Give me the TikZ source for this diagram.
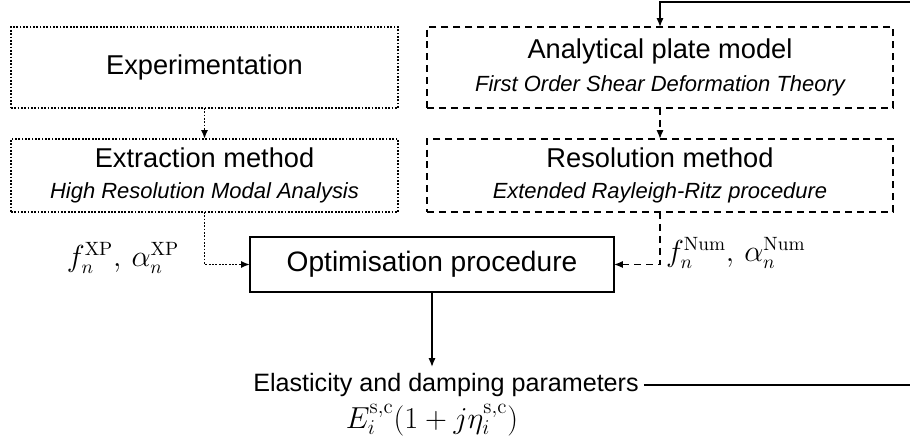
\documentclass[tikz,border=0pt]{standalone}
\usepackage[no-math]{fontspec}
\setmainfont{Liberation Sans}
\usetikzlibrary{arrows.meta}
\newcommand{\ttlfont}{\fontsize{15.5}{18}\selectfont}
\newcommand{\subfont}{\fontsize{12.5}{18}\selectfont\itshape}
\begin{document}
\begin{tikzpicture}[x=0.02cm,y=-0.02cm,
  every node/.style={inner sep=0pt, outer sep=0pt},
  dotbox/.style={draw, line width=1pt, dash pattern=on 1pt off 0.9pt, minimum width=387*0.02cm, align=center},
  dashbox/.style={draw, line width=0.8pt, dash pattern=on 4pt off 2.8pt, minimum width=466*0.02cm, align=center},
  optbox/.style={draw, line width=1.1pt, minimum width=364*0.02cm, minimum height=55*0.02cm},
  arr/.style={-{Latex[length=5pt,width=4pt]}},
  dotline/.style={line width=1pt, dash pattern=on 1pt off 0.9pt},
  dashline/.style={line width=0.8pt, dash pattern=on 4pt off 2.8pt},
  solidline/.style={line width=0.8pt}
]
\useasboundingbox (0,0) rectangle (910,448);

\node[dotbox, minimum height=81*0.02cm] (exp) at (204.5,67.5) {\ttlfont Experimentation};
\node[dotbox, minimum height=73*0.02cm] (ext) at (204.5,175.5) {{\ttlfont Extraction method}\\[5.5pt]{\subfont High Resolution Modal Analysis}};
\node[dashbox, minimum height=81*0.02cm] (ana) at (660,67.5) {{\ttlfont Analytical plate model}\\[5.5pt]{\subfont First Order Shear Deformation Theory}};
\node[dashbox, minimum height=73*0.02cm] (res) at (660,175.5) {{\ttlfont Resolution method}\\[5.5pt]{\subfont Extended Rayleigh-Ritz procedure}};
\node[optbox] (opt) at (432,264.5) {\fontsize{16}{19}\selectfont Optimisation procedure};

\node (xp) at (123,258) {\fontsize{16}{19}\selectfont $f_n^{\mathrm{XP}},\, \alpha_n^{\mathrm{XP}}$};
\node[anchor=west] (num) at (666,253) {\fontsize{16}{19}\selectfont $f_n^{\mathrm{Num}},\, \alpha_n^{\mathrm{Num}}$};

\node (ela) at (446,385) {\fontsize{14.3}{17}\selectfont Elasticity and damping parameters};
\node (form) at (432,420) {\fontsize{16.5}{19}\selectfont $E_i^{\mathrm{s,c}}(1+j\eta_i^{\mathrm{s,c}})$};

\coordinate (fr) at (916,385);
\coordinate (tr) at (916,2);

\draw[dotline, arr] (exp.south) -- (ext.north);
\draw[dashline, arr] (ana.south) -- (res.north);
\draw[dotline, arr] (ext.south) |- (opt.west);
\draw[dashline, arr] (res.south) |- (opt.east);
\draw[solidline, arr] (opt.south) -- (opt.south |- 0,367);
\draw[solidline, arr] ([xshift=3pt]ela.east) -- (fr) -- (tr) -| (ana.north);
\end{tikzpicture}
\end{document}
